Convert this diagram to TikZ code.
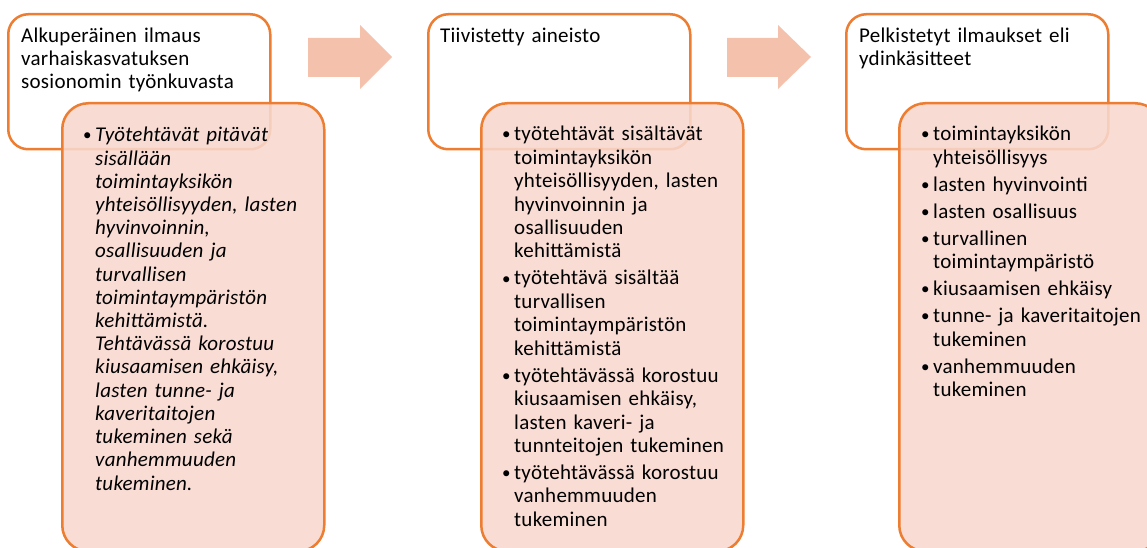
\documentclass[tikz,border=0pt]{standalone}
\usepackage{fontspec}
\setmainfont{Carlito}[LetterSpace=1.2]
\definecolor{accent}{HTML}{ED7D31}
\definecolor{subfill}{HTML}{F8D7CE}
\definecolor{arrowfill}{HTML}{F4C1AC}
\newlength{\bhang}
\setlength{\bhang}{12pt}
\newcommand{\bitem}[1]{\hangindent=\bhang\hangafter=1\noindent\hbox to\bhang{\upshape\fontsize{17}{17}\selectfont\raisebox{1pt}{•}\hss}#1\par\vskip3.6pt}
\begin{document}
\begin{tikzpicture}[x=1pt,y=-1pt,
  topbox/.style={draw=accent, line width=2.5pt, fill=white, rounded corners=20pt,
    minimum width=262pt, minimum height=135pt, anchor=north west, inner sep=0pt},
  subbox/.style={draw=accent, line width=2.5pt, fill=subfill, fill opacity=0.88,
    rounded corners=26pt, minimum width=262pt, minimum height=448pt, anchor=north west, inner sep=0pt},
  flow/.style={fill=arrowfill, draw=none},
  toptext/.style={anchor=base west, inner sep=0pt, text width=245pt, align=left,
    font=\fontsize{21}{22.6}\selectfont},
  subtext/.style={anchor=base west, inner sep=0pt, text width=240pt, align=left,
    font=\fontsize{21}{23.4}\selectfont}]
\useasboundingbox (0,0) rectangle (1147,548);
\clip (0,0) rectangle (1147,548);

% arrows
\path[flow] (308,38) -- (360,38) -- (360,25) -- (392,57) -- (360,89) -- (360,77) -- (308,77) -- cycle;
\path[flow] (727,38) -- (778,38) -- (778,25) -- (811,57) -- (778,89) -- (778,77) -- (727,77) -- cycle;

% column 1
\node[topbox] (t1) at (7,13) {};
\node[toptext] (t1txt) at (21,43) {Alkuperäinen ilmaus\\varhaiskasvatuksen\\sosionomin työnkuvasta};
\node[subbox] (s1) at (61,102) {};
\node[subtext, font=\fontsize{21}{23.2}\selectfont\itshape] (s1txt) at (83,142) {%
\bitem{Työtehtävät pitävät\newline sisällään\newline toimintayksikön\newline yhteisöllisyyden, lasten\newline hyvinvoinnin,\newline osallisuuden ja\newline turvallisen\newline toimintaympäristön\newline kehittämistä.\newline Tehtävässä korostuu\newline kiusaamisen ehkäisy,\newline lasten tunne- ja\newline kaveritaitojen\newline tukeminen sekä\newline vanhemmuuden\newline tukeminen.}};

% column 2
\node[topbox] (t2) at (427,13) {};
\node[toptext] (t2txt) at (440,43) {Tiivistetty aineisto};
\node[subbox] (s2) at (480,102) {};
\node[subtext] (s2txt) at (502,141) {%
\bitem{työtehtävät sisältävät\newline toimintayksikön\newline yhteisöllisyyden, lasten\newline hyvinvoinnin ja\newline osallisuuden\newline kehittämistä}%
\bitem{työtehtävä sisältää\newline turvallisen\newline toimintaympäristön\newline kehittämistä}%
\bitem{työtehtävässä korostuu\newline kiusaamisen ehkäisy,\newline lasten kaveri- ja\newline tunnteitojen tukeminen}%
\bitem{työtehtävässä korostuu\newline vanhemmuuden\newline tukeminen}};

% column 3
\node[topbox] (t3) at (845,13) {};
\node[toptext] (t3txt) at (859,43) {Pelkistetyt ilmaukset eli\\ydinkäsitteet};
\node[subbox] (s3) at (898,102) {};
\node[subtext] (s3txt) at (921,141) {%
\bitem{toimintayksikön\newline yhteisöllisyys}%
\bitem{lasten hyvinvointi}%
\bitem{lasten osallisuus}%
\bitem{turvallinen\newline toimintaympäristö}%
\bitem{kiusaamisen ehkäisy}%
\bitem{tunne- ja kaveritaitojen\newline tukeminen}%
\bitem{vanhemmuuden\newline tukeminen}};
\end{tikzpicture}
\end{document}
